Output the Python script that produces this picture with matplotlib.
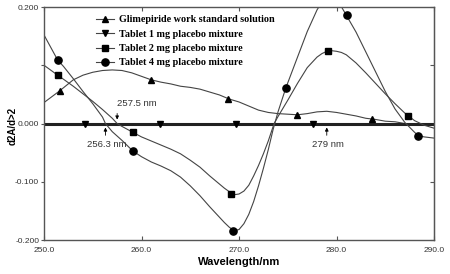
import matplotlib
matplotlib.use("Agg")
import matplotlib.pyplot as plt

# wavelengths (nm) and second-derivative values
glim_x = [250, 251.6, 253, 254, 255, 256, 257, 258, 259, 260, 261, 262, 263, 264, 265, 266, 267, 268,
          269, 270, 271, 272, 273, 274, 275, 276, 277, 278, 279, 280, 281, 282, 283, 284, 285, 286,
          287, 288, 289, 290]
glim_y = [0.036, 0.056, 0.075, 0.083, 0.088, 0.091, 0.092, 0.091, 0.087, 0.081, 0.075, 0.071, 0.068,
          0.064, 0.062, 0.059, 0.054, 0.049, 0.042, 0.037, 0.030, 0.023, 0.019, 0.017, 0.016, 0.015,
          0.017, 0.020, 0.021, 0.019, 0.016, 0.013, 0.009, 0.007, 0.004, 0.003, 0.000, -0.002, -0.003,
          -0.003]
glim_mx = [251.6, 261.0, 268.9, 275.9, 283.6]
glim_my = [0.056, 0.075, 0.042, 0.015, 0.008]

tab1_x = [250, 255, 260, 265, 270, 275, 280, 285, 290]
tab1_y = [0.000, 0.000, 0.000, 0.000, 0.000, 0.000, 0.000, 0.000, 0.000]
tab1_mx = [254.2, 261.9, 269.7, 277.6]
tab1_my = [0.000, 0.000, 0.000, 0.000]

tab2_x = [250, 251.4, 252, 253, 254, 255, 256, 257, 257.5, 258, 259.1, 260, 261, 262, 263, 264, 265,
          266, 267, 268, 268.5, 269, 269.6, 270, 270.5, 271, 271.5, 272, 272.5, 273, 273.6, 274, 275,
          276, 277, 278, 278.5, 279, 279.5, 280, 280.5, 281, 282, 283, 284, 285, 286, 287, 288, 289, 290]
tab2_y = [0.100, 0.083, 0.076, 0.064, 0.051, 0.038, 0.024, 0.009, 0.000, -0.005, -0.015, -0.023,
          -0.030, -0.037, -0.044, -0.052, -0.063, -0.075, -0.090, -0.104, -0.111, -0.117, -0.122,
          -0.121, -0.116, -0.106, -0.090, -0.072, -0.052, -0.030, 0.000, 0.012, 0.040, 0.069, 0.096,
          0.114, 0.120, 0.124, 0.125, 0.124, 0.122, 0.118, 0.104, 0.087, 0.069, 0.051, 0.034, 0.018,
          0.005, -0.003, -0.008]
tab2_mx = [251.4, 259.1, 269.2, 279.1, 287.3]
tab2_my = [0.083, -0.015, -0.121, 0.124, 0.013]

tab4_x = [250, 251.4, 252, 253, 254, 255, 256, 256.3, 257, 258, 259.1, 260, 261, 262, 263, 264, 265,
          266, 267, 268, 268.5, 269, 269.5, 270, 270.5, 271, 271.5, 272, 272.5, 273, 273.5, 274, 274.8,
          276, 277, 278, 279, 280, 281, 282, 283, 284, 285, 286, 287, 288, 288.4, 289, 290]
tab4_y = [0.152, 0.109, 0.098, 0.077, 0.055, 0.034, 0.011, 0.000, -0.014, -0.029, -0.047, -0.057,
          -0.066, -0.073, -0.081, -0.092, -0.107, -0.124, -0.143, -0.161, -0.170, -0.178, -0.184,
          -0.182, -0.172, -0.156, -0.134, -0.107, -0.077, -0.045, -0.010, 0.020, 0.061, 0.114, 0.158,
          0.195, 0.222, 0.215, 0.186, 0.157, 0.123, 0.089, 0.055, 0.025, 0.002, -0.015, -0.021,
          -0.023, -0.025]
tab4_mx = [251.4, 259.1, 269.4, 274.8, 281.1, 288.4]
tab4_my = [0.109, -0.047, -0.184, 0.061, 0.186, -0.021]

labels = ["Glimepiride work standard solution", "Tablet 1 mg placebo mixture",
          "Tablet 2 mg placebo mixture", "Tablet 4 mg placebo mixture"]

# (x position, label, arrow direction) of the zero-crossing notes
notes = [(257.5, "257.5 nm", "down"), (256.3, "256.3 nm", "up"), (279.0, "279 nm", "up")]

fig = plt.figure(figsize=(4.5, 2.74), dpi=100)
ax = fig.add_axes([0.0978, 0.124, 0.8667, 0.8504])

line_c = "#444444"
lw = 0.8
ax.plot(glim_x, glim_y, color=line_c, lw=lw)
ax.plot(tab1_x, tab1_y, color="#222222", lw=2.2)
ax.plot(tab2_x, tab2_y, color=line_c, lw=lw)
ax.plot(tab4_x, tab4_y, color=line_c, lw=lw)

ax.plot(glim_mx, glim_my, "^", color="black", ms=4.5, ls="none")
ax.plot(tab1_mx, tab1_my, "v", color="black", ms=4.5, ls="none")
ax.plot(tab2_mx, tab2_my, "s", color="black", ms=3.8, ls="none")
ax.plot(tab4_mx, tab4_my, "o", color="black", ms=5.2, ls="none")

# legend handles: line + marker
handles = []
for m, ms in zip(["^", "v", "s", "o"], [4.5, 4.5, 3.8, 5.2]):
    h, = ax.plot([], [], color=line_c, lw=lw, marker=m, ms=ms, mfc="black", mec="black")
    handles.append(h)
ax.legend(handles, labels, loc="upper left", bbox_to_anchor=(0.115, 0.995), frameon=False,
          prop={"family": "Liberation Serif", "weight": "bold", "size": 7.3},
          handlelength=1.8, handletextpad=0.5, labelspacing=0.52, borderpad=0.2)

for x, txt, side in notes:
    if side == "down":
        ax.annotate("", xy=(x, 0.002), xytext=(x, 0.022),
                    arrowprops=dict(arrowstyle="-|>", color="black", lw=0.6, mutation_scale=5))
        ax.text(x + 2.0, 0.027, txt, ha="center", va="bottom", fontsize=6.8, color="#333333",
                family="Liberation Sans")
    else:
        ax.annotate("", xy=(x, -0.002), xytext=(x, -0.025),
                    arrowprops=dict(arrowstyle="-|>", color="black", lw=0.6, mutation_scale=5))
        ax.text(x + 0.1, -0.029, txt, ha="center", va="top", fontsize=6.8, color="#333333",
                family="Liberation Sans")

ax.set_xlim(250, 290)
ax.set_ylim(-0.2, 0.2)
ax.set_xticks([250, 260, 270, 280, 290])
ax.set_xticklabels(["250.0", "260.0", "270.0", "280.0", "290.0"])
ax.set_yticks([-0.2, -0.1, 0.0, 0.1, 0.2])
ax.set_yticklabels(["-0.200", "-0.100", "0.000", "", "0.200"])
ax.tick_params(axis="x", direction="in", top=True, length=3, width=0.8, color="#555555",
               labelsize=6, labelcolor="#333333", pad=5)
ax.tick_params(axis="y", direction="out", right=False, length=2.5, width=0.8, color="#555555",
               labelsize=6, labelcolor="#333333", pad=1)
sec = ax.secondary_yaxis("right")
sec.set_yticks([-0.2, -0.1, 0.0, 0.1, 0.2])
sec.tick_params(direction="in", length=3, width=0.8, color="#555555", labelright=False)
sec.spines["right"].set_color("#555555")
for s in ax.spines.values():
    s.set_color("#555555")
    s.set_linewidth(1.0)

for t in ax.get_xticklabels() + ax.get_yticklabels():
    t.set_family("Liberation Sans")

fig.text(0.027, 0.54, "d2A/d>2", rotation=90, ha="center", va="center", fontsize=7,
         fontweight="bold", family="Liberation Sans")
ax.set_xlabel("Wavelength/nm", fontsize=8, fontweight="bold", family="Liberation Sans", labelpad=2)

fig.savefig("out.png", dpi=100)
